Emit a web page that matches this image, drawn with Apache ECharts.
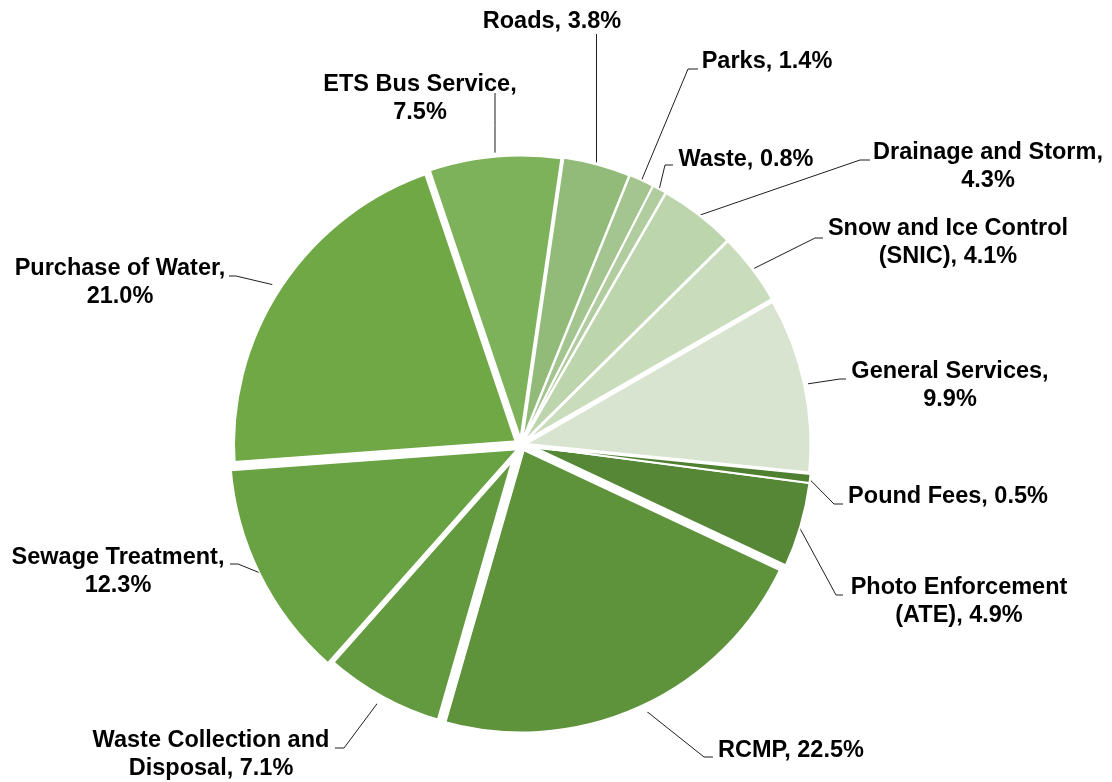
<!DOCTYPE html>
<html>
<head>
<meta charset="utf-8">
<title>Budget share by service</title>
<script src="https://cdn.jsdelivr.net/npm/echarts@6/dist/echarts.min.js"></script>
<style>
  html, body { margin: 0; padding: 0; background: #ffffff; }
  #chart { width: 1112px; height: 782px; }
</style>
</head>
<body>
<div id="chart"></div>
<script>
// Share of the total (%) per service, in drawing order (clockwise).
const categories = [
  'Photo Enforcement (ATE)',
  'RCMP',
  'Waste Collection and Disposal',
  'Sewage Treatment',
  'Purchase of Water',
  'ETS Bus Service',
  'Roads',
  'Parks',
  'Waste',
  'Drainage and Storm',
  'Snow and Ice Control (SNIC)',
  'General Services',
  'Pound Fees'
];
const shares = [4.9, 22.5, 7.1, 12.3, 21.0, 7.5, 3.8, 1.4, 0.8, 4.3, 4.1, 9.9, 0.5];

// Slice fill colours (green shades) and white separator widths.
const sliceColors = [
  '#558737', '#5e933b', '#649a3f', '#69a242', '#70a845', '#7db25a',
  '#92bb79', '#a4c58f', '#b1cd9f', '#bdd5ad', '#c9dcbc', '#d8e4cf', '#4f7f31'
];
const sliceBorders = [2, 9, 10, 1.5, 10, 5, 3, 2, 2, 2.5, 3, 5, 2];

// Where each label wraps onto a second line (text before the break).
const labelBreakAfter = {
  'Photo Enforcement (ATE)': 'Photo Enforcement',
  'Waste Collection and Disposal': 'Waste Collection and',
  'Sewage Treatment': 'Sewage Treatment,',
  'Purchase of Water': 'Purchase of Water,',
  'ETS Bus Service': 'ETS Bus Service,',
  'Drainage and Storm': 'Drainage and Storm,',
  'Snow and Ice Control (SNIC)': 'Snow and Ice Control',
  'General Services': 'General Services,'
};

// Label block centres and leader-line bends.
const labelPlacement = {
  'Photo Enforcement (ATE)':      { x: 959, y: 602, line: [[836, 595], [843, 595]] },
  'RCMP':                         { x: 791, y: 751, line: [[704, 757], [713, 757]] },
  'Waste Collection and Disposal':{ x: 211, y: 755, line: [[344, 748], [335, 748]] },
  'Sewage Treatment':             { x: 118, y: 572, line: [[238, 564], [230, 564]] },
  'Purchase of Water':            { x: 120, y: 283, line: [[236, 276], [229, 276]] },
  'ETS Bus Service':              { x: 420, y: 99,  vertical: 93 },
  'Roads':                        { x: 552, y: 22,  vertical: 34 },
  'Parks':                        { x: 767, y: 62,  line: [[688, 69], [698, 69]] },
  'Waste':                        { x: 746, y: 160, line: [[665, 165], [673, 165]] },
  'Drainage and Storm':           { x: 988, y: 167, line: [[860, 160], [870, 160]] },
  'Snow and Ice Control (SNIC)':  { x: 948, y: 243, line: [[815, 238], [823, 238]] },
  'General Services':             { x: 950, y: 386, line: [[840, 379], [846, 379]] },
  'Pound Fees':                   { x: 948, y: 497, line: [[834, 504], [843, 504]] }
};

const pieCenter = [521, 445];
const pieRadius = 291;
const pieStartAngle = -7.5;

function labelText(name, value) {
  const full = name + ', ' + Number(value).toFixed(1) + '%';
  const head = labelBreakAfter[name];
  if (!head) return full;
  return head + '\n' + full.slice(head.length).trim();
}

// Point on the rim at the middle of slice i (fallback when the library gives none).
function rimPoint(i) {
  const total = shares.reduce((a, b) => a + b, 0);
  let before = 0;
  for (let k = 0; k < i; k++) before += shares[k];
  const mid = before + shares[i] / 2;
  const ang = (pieStartAngle - mid / total * 360) * Math.PI / 180;
  return [pieCenter[0] + pieRadius * Math.cos(ang), pieCenter[1] - pieRadius * Math.sin(ang)];
}

// Pull a rim point in so the leader touches the visible (border-trimmed) edge.
function trimToEdge(p, i) {
  const dx = p[0] - pieCenter[0];
  const dy = p[1] - pieCenter[1];
  const len = Math.sqrt(dx * dx + dy * dy) || 1;
  const cut = sliceBorders[i] / 2 + 0.5;
  return [p[0] - dx / len * cut, p[1] - dy / len * cut];
}

const chart = echarts.init(document.getElementById('chart'), null, { renderer: 'canvas' });

chart.setOption({
  animation: false,
  backgroundColor: '#ffffff',
  series: [{
    type: 'pie',
    center: pieCenter,
    radius: pieRadius,
    startAngle: pieStartAngle,
    clockwise: true,
    avoidLabelOverlap: false,
    emphasis: { disabled: true },
    data: categories.map((name, i) => ({
      name: name,
      value: shares[i],
      itemStyle: {
        color: sliceColors[i],
        borderColor: '#ffffff',
        borderWidth: sliceBorders[i],
        borderJoin: 'round'
      }
    })),
    label: {
      show: true,
      position: 'outside',
      formatter: p => labelText(p.name, p.value),
      fontFamily: '"Liberation Sans", Arial, sans-serif',
      fontWeight: 'bold',
      fontSize: 23.5,
      lineHeight: 28,
      color: '#000000',
      align: 'center'
    },
    labelLine: {
      show: true,
      length: 10,
      length2: 10,
      lineStyle: { color: '#1f1f1f', width: 1 }
    },
    labelLayout: function (params) {
      const i = params.dataIndex;
      const pl = labelPlacement[categories[i]];
      const rim = (params.labelLinePoints && params.labelLinePoints[0])
        ? params.labelLinePoints[0].slice() : rimPoint(i);
      const start = trimToEdge(rim, i);
      let pts;
      if (pl.vertical != null) {
        pts = [start, [start[0], (start[1] + pl.vertical) / 2], [start[0], pl.vertical]];
      } else {
        pts = [start].concat(pl.line);
      }
      return {
        x: pl.x,
        y: pl.y,
        align: 'center',
        verticalAlign: 'middle',
        labelLinePoints: pts
      };
    }
  }]
});
</script>
</body>
</html>
